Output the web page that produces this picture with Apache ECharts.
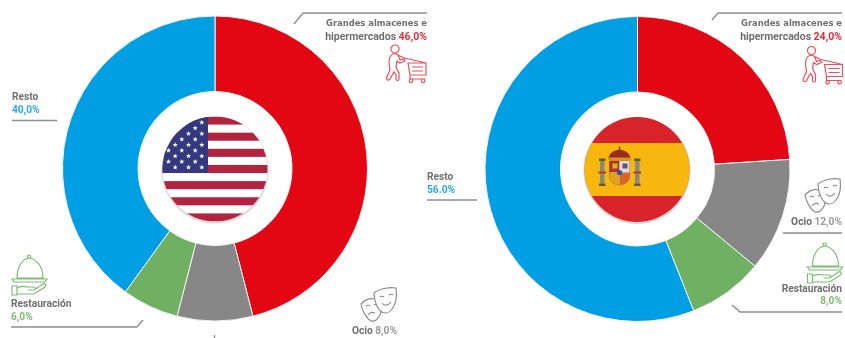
<!DOCTYPE html>
<html>
<head>
<meta charset="utf-8">
<style>html,body{margin:0;padding:0;background:#fff}#c{width:845px;height:338px}</style>
<script src="https://cdn.jsdelivr.net/npm/echarts@6/dist/echarts.min.js"></script>
</head>
<body>
<div id="c"></div>
<script>
// Shares by sector, clockwise from twelve o'clock
const sectors = ['Grandes almacenes e hipermercados', 'Ocio', 'Restauración', 'Resto'];
const sectorColors = ['#e30613', '#878787', '#6fb063', '#009fe3'];
const usaValues = [46, 8, 6, 40];
const spainValues = [24, 12, 8, 56];
const usaLabels = ['46,0%', '8,0%', '6,0%', '40,0%'];
const spainLabels = ['24,0%', '12,0%', '8,0%', '56.0%'];

const FONT = 'Roboto, "Liberation Sans", sans-serif';
const WIDE_FONT = '"DejaVu Sans", sans-serif';
const GREY_TEXT = '#6f6f6f';
const LEADER = '#8f8f8f';
const RED_TEXT = '#e4303c', BLUE_TEXT = '#29abe2', GREEN_TEXT = '#7dbb72';

function usaFlag() {
  const R = 52.5, top = -52.5, h = 105 / 13;
  let s = '';
  for (let i = 0; i < 13; i += 2) {
    s += `<rect x="-60" y="${top + i * h}" width="120" height="${h}" fill="#b3233f"/>`;
  }
  s += `<rect x="-60" y="-60" width="53" height="64" fill="#33397c"/>`;
  const columns = [-46.5, -39.8, -33.2, -26.5, -19.8, -13.2];
  const starRows = [[5], [4], [3, 5], [2, 4], [1, 3, 5], [0, 2, 4], [1, 3, 5], [0, 2, 4], [1, 3, 5]];
  starRows.forEach((row, r) => row.forEach(c => {
    const x = columns[c], y = -46.5 + r * 5.6;
    let pts = [];
    for (let k = 0; k < 10; k++) {
      const a = -Math.PI / 2 + k * Math.PI / 5, q = k % 2 ? 1.1 : 2.7;
      pts.push((x + q * Math.cos(a)).toFixed(2) + ',' + (y + q * Math.sin(a)).toFixed(2));
    }
    s += `<polygon points="${pts.join(' ')}" fill="#fff"/>`;
  }));
  return wrapFlag(s, R);
}

function spainFlag() {
  const R = 52.5;
  let s = '<rect x="-60" y="-60" width="120" height="120" fill="#d9232b"/>' +
    '<rect x="-60" y="-26.5" width="120" height="53" fill="#f8b70f"/>';
  // Pillars, crown and shield of the coat of arms
  s += '<g transform="translate(-18.5,0)">' +
    '<rect x="-18.5" y="-9" width="4.5" height="23" fill="#8a8a78"/><rect x="16.5" y="-9" width="4.5" height="23" fill="#8a8a78"/>' +
    '<rect x="-19.5" y="-11" width="6.5" height="2.4" fill="#5a5a2a"/><rect x="15.5" y="-11" width="6.5" height="2.4" fill="#5a5a2a"/>' +
    '<rect x="-19.5" y="14" width="6.5" height="2.4" fill="#5a5a2a"/><rect x="15.5" y="14" width="6.5" height="2.4" fill="#5a5a2a"/>' +
    '<rect x="-20" y="2" width="7.5" height="2" fill="#b5302a"/><rect x="15" y="2" width="7.5" height="2" fill="#b5302a"/>' +
    '<path d="M-10,-10 C-10,-17 -4,-19 1,-20 C6,-19 12,-17 12,-10 Z" fill="#9c2a20"/>' +
    '<rect x="-9.5" y="-12" width="21" height="2.6" fill="#d19a1c"/><rect x="0.3" y="-23" width="1.4" height="4" fill="#6b4a10"/>' +
    '<path d="M-9,-8.5 H11 V7 C11,13 5,15 1,15.5 C-3,15 -9,13 -9,7 Z" fill="#e9e4d6" stroke="#6d5a2a" stroke-width="0.7"/>' +
    '<rect x="-9" y="-8.5" width="10" height="11.5" fill="#b5302a"/>' +
    '<rect x="1" y="-8.5" width="10" height="11.5" fill="#dcdcdc"/>' +
    '<path d="M-9,3 H1 V15.5 C-3,15 -9,13 -9,7 Z" fill="#e2a21e"/>' +
    '<path d="M1,3 H11 V7 C11,13 5,15 1,15.5 Z" fill="#d8642a"/>' +
    '<circle cx="1" cy="3" r="2.6" fill="#33509c"/>' +
    '<path d="M-6,-6 h5 v5 h-5 z" fill="#e2b21e"/><path d="M4,-6 h5 v5 h-5 z" fill="#6f4a7a"/>' +
    '</g>';
  return wrapFlag(s, R);
}

function wrapFlag(content, R) {
  const svg = `<svg xmlns="http://www.w3.org/2000/svg" width="120" height="120" viewBox="-60 -60 120 120">` +
    `<defs><clipPath id="d"><circle r="${R}"/></clipPath></defs>` +
    `<circle r="${R + 1}" cy="1" fill="#d9d9d9"/><circle r="${R}" fill="#fff"/>` +
    `<g clip-path="url(#d)">${content}</g></svg>`;
  return 'data:image/svg+xml;charset=utf-8,' + encodeURIComponent(svg);
}

// Outline icons, each written around its own origin
const cartPath =
  'M13,5 a4,4 0 1,0 -8,0 a4,4 0 1,0 8,0 Z ' +
  'M7,10 C4,11 3,14 3,19 L4,26 L0.5,34 C0,36 3,37 4,35 L8,28 L10,31 L10,35 C10,37 13,37 13,35 L13,29 L10,23 L11,17 L14,19 L19,17 L18,15 L14,16 L12,11 C11,10 9,9.5 7,10 Z ' +
  'M12,11 L18,14 L23,15 L40,19 ' +
  'M22,19 H40 V31 H24 Z ' +
  'M26,23 H37 M26,27 H37 ' +
  'M24,31 V35 H39 ' +
  'M25,35 a1.8,1.8 0 1,0 0.1,0 Z M37,35 a1.8,1.8 0 1,0 0.1,0 Z';
const clochePath =
  'M17,0 a1.6,1.6 0 1,0 0.1,0 Z ' +
  'M5,23 C5,12 10,4 17,3 C25,4 31,12 31,23 Z ' +
  'M0,24 H35 L33,27 H2 Z ' +
  'M0,31 H5 V40 H0 Z ' +
  'M5,33 C9,31 12,31 15,32 H22 C24,32 24,35 22,35 H16 M22,35 L31,29 C33,28 35,30 33,32 L22,39 H5';
const maskPath =
  'M13,8 C19,3 30,2 35,3 C36,10 35,19 31,24 C28,28 24,29 21,27 C17,25 13,17 13,8 Z ' +
  'M19,12 C20,11 22,11 23,12 M28,10 C29,9 31,9 32,10 ' +
  'M21,18 C23,21 27,21 30,17 ' +
  'M13,14 C9,13 4,15 0,19 C1,25 5,33 10,36 C14,37 17,34 19,30 C20,28 20,27 20,26 ' +
  'M5,21 C6,20 8,20 9,21 M13,20 C14,19 15,19 16,20 ' +
  'M7,30 C9,27 12,27 14,28';

echarts.graphic.registerShape('cartIcon', echarts.graphic.extendPath(cartPath, {}));
echarts.graphic.registerShape('clocheIcon', echarts.graphic.extendPath(clochePath, {}));
echarts.graphic.registerShape('maskIcon', echarts.graphic.extendPath(maskPath, {}));

function icon(type, x, y, color, width) {
  return { type, x, y, style: { fill: 'none', stroke: color, lineWidth: width } };
}

function leader(points) {
  return {
    type: 'polyline', shape: { points },
    style: { fill: 'none', stroke: LEADER, lineWidth: 1.4 }
  };
}

function label(x, y, align, text) {
  return {
    type: 'text', x, y,
    style: {
      text, align, verticalAlign: 'middle', font: `bold 10.2px ${FONT}`,
      rich: {
        g: { fill: GREY_TEXT, font: `bold 10.2px ${FONT}` },
        w: { fill: GREY_TEXT, font: `bold 8.4px ${WIDE_FONT}` },
        h: { fill: GREY_TEXT, font: `bold 10.5px ${FONT}` },
        l: { fill: '#9a9a9a', font: `bold 10.2px ${FONT}` },
        r: { fill: RED_TEXT, font: `bold 10.5px ${FONT}` },
        b: { fill: BLUE_TEXT, font: `bold 10.2px ${FONT}` },
        v: { fill: GREEN_TEXT, font: `bold 10.2px ${FONT}` }
      }
    }
  };
}

function pie(center, values) {
  return {
    type: 'pie', center, radius: [77, 152.5], startAngle: 90, clockwise: true,
    silent: true, animation: false, label: { show: false }, labelLine: { show: false },
    itemStyle: { borderColor: '#f4f4f4', borderWidth: 1 },
    data: values.map((value, i) => ({ value, name: sectors[i], itemStyle: { color: sectorColors[i] } }))
  };
}

const chart = echarts.init(document.getElementById('c'), null, { renderer: 'canvas' });
chart.setOption({
  animation: false,
  backgroundColor: '#fff',
  series: [pie([215, 168.5], usaValues), pie([637.5, 169], spainValues)],
  graphic: [
    { type: 'image', x: 215 - 60, y: 169 - 60, style: { image: usaFlag(), width: 120, height: 120 } },
    { type: 'image', x: 637 - 60, y: 169.5 - 60, style: { image: spainFlag(), width: 120, height: 120 } },

    leader([[294, 24], [303, 13], [427, 13]]),
    leader([[11, 327], [137, 327], [143, 320]]),
    leader([[12, 120.5], [57, 120.5]]),
    leader([[427, 200], [477, 200]]),
    leader([[712, 20], [718, 13], [842, 13]]),
    leader([[783, 233], [842, 233]]),
    leader([[732, 305], [740, 312], [842, 312]]),
    leader([[214.5, 335], [214.5, 338]]),

    label(427, 24, 'right', '{w|Grandes almacenes e}'),
    label(427, 37, 'right', `{h|hipermercados} {r|${usaLabels[0]}}`),
    label(397, 331, 'right', `{g|${sectors[1]}} {l|${usaLabels[1]}}`),
    label(11, 304, 'left', `{g|${sectors[2]}}`),
    label(11, 317, 'left', `{v|${usaLabels[2]}}`),
    label(12, 97, 'left', `{g|${sectors[3]}}`),
    label(12, 110, 'left', `{b|${usaLabels[3]}}`),

    label(842, 24, 'right', '{w|Grandes almacenes e}'),
    label(842, 37, 'right', `{h|hipermercados} {r|${spainLabels[0]}}`),
    label(842, 222, 'right', `{g|${sectors[1]}} {l|${spainLabels[1]}}`),
    label(842, 289, 'right', `{g|${sectors[2]}}`),
    label(842, 301, 'right', `{v|${spainLabels[2]}}`),
    label(427, 177, 'left', `{g|${sectors[3]}}`),
    label(427, 190, 'left', `{b|${spainLabels[3]}}`),

    icon('cartIcon', 386, 44, '#e8505a', 1.2),
    icon('cartIcon', 802.5, 45.5, '#e8505a', 1.2),
    icon('clocheIcon', 12, 255, '#7dbb72', 1.2),
    icon('clocheIcon', 807.5, 243, '#7dbb72', 1.2),
    icon('maskIcon', 361, 285, '#8c8c8c', 1.2),
    icon('maskIcon', 805, 176, '#8c8c8c', 1.2)
  ]
});
</script>
</body>
</html>
